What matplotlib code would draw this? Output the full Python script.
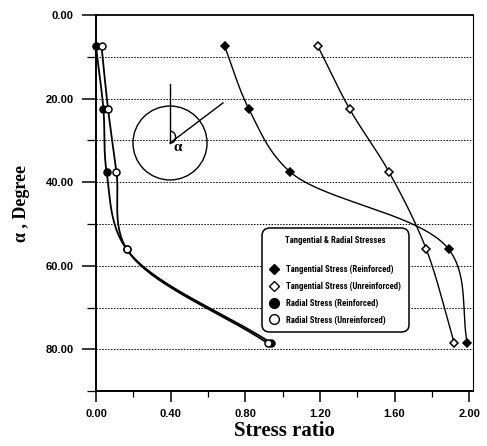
import numpy as np
import matplotlib
matplotlib.use("Agg")
import matplotlib.pyplot as plt
from matplotlib import font_manager
from matplotlib.lines import Line2D
from matplotlib.patches import Ellipse, Arc
from matplotlib.ticker import MultipleLocator, FormatStrFormatter

# angle positions (degrees) of the computed points
angles = [7.5, 22.5, 37.5, 56.0, 78.5]

tang_reinf = [0.69, 0.82, 1.04, 1.89, 1.99]
tang_unreinf = [1.19, 1.36, 1.57, 1.77, 1.92]
rad_reinf = [0.0, 0.04, 0.057, 0.164, 0.94]
rad_unreinf = [0.03, 0.065, 0.11, 0.165, 0.92]

labels = [
    "Tangential Stress (Reinforced)",
    "Tangential Stress (Unreinforced)",
    "Radial Stress (Reinforced)",
    "Radial Stress (Unreinforced)",
]


def smooth(xs, ys, n=60, alpha=0.5):
    # centripetal Catmull-Rom through the points, in scaled units so both axes weigh the same
    p = np.column_stack([np.asarray(xs) / 2.0, np.asarray(ys) / 90.0])
    pts = np.vstack([2 * p[0] - p[1], p, 2 * p[-1] - p[-2]])
    segs = []
    for i in range(1, len(pts) - 2):
        P0, P1, P2, P3 = pts[i - 1:i + 3]
        t0 = 0.0
        t1 = t0 + np.linalg.norm(P1 - P0) ** alpha
        t2 = t1 + np.linalg.norm(P2 - P1) ** alpha
        t3 = t2 + np.linalg.norm(P3 - P2) ** alpha
        t = np.linspace(t1, t2, n)[:, None]
        A1 = (t1 - t) / (t1 - t0) * P0 + (t - t0) / (t1 - t0) * P1
        A2 = (t2 - t) / (t2 - t1) * P1 + (t - t1) / (t2 - t1) * P2
        A3 = (t3 - t) / (t3 - t2) * P2 + (t - t2) / (t3 - t2) * P3
        B1 = (t2 - t) / (t2 - t0) * A1 + (t - t0) / (t2 - t0) * A2
        B2 = (t3 - t) / (t3 - t1) * A2 + (t - t1) / (t3 - t1) * A3
        segs.append((t2 - t) / (t2 - t1) * B1 + (t - t1) / (t2 - t1) * B2)
    c = np.vstack(segs)
    return c[:, 0] * 2.0, c[:, 1] * 90.0


# narrowest bold sans that is installed, for the legend
fams = {f.name for f in font_manager.fontManager.ttflist}
legend_family = "DejaVu Sans"
for name in ["Liberation Sans Narrow", "Roboto Condensed", "Open Sans Condensed",
             "Noto Sans Condensed"]:
    if name in fams:
        legend_family = name
        break
has_condensed = any(f.name == legend_family and "condensed" in str(f.stretch)
                    for f in font_manager.fontManager.ttflist)

fig = plt.figure(figsize=(4.87, 4.46), dpi=100)
ax = fig.add_axes([0.197, 0.123, 0.774, 0.843])

ax.set_xlim(0, 2.02)
ax.set_ylim(90, 0)

for y in range(10, 90, 10):
    ax.axhline(y, color="black", lw=0.7, ls=(0, (1.5, 1.5)), zorder=1)

series = [
    (tang_reinf, "D", "black", 3.8, 1.0),
    (tang_unreinf, "D", "white", 3.8, 1.0),
    (rad_reinf, "o", "black", 5.0, 1.3),
    (rad_unreinf, "o", "white", 5.0, 1.3),
]
for xs, mk, fc, ms, lw in series:
    sx, sy = smooth(xs, angles)
    ax.plot(sx, sy, color="black", lw=lw, zorder=2)
    ax.plot(xs, angles, ls="none", marker=mk, ms=ms, mfc=fc, mec="black",
            mew=1.1, zorder=3, clip_on=False)

# sketch of the opening with the angle alpha
ax.add_patch(Ellipse((0.397, 30.6), 0.397, 17.7, fill=False, ec="black", lw=1.0))
ax.plot([0.397, 0.397], [30.6, 16.5], color="black", lw=1.0)
ax.plot([0.397, 0.681], [30.6, 21.0], color="black", lw=1.0)
ax.add_patch(Arc((0.397, 29.2), 0.06, 2.9, theta1=-90, theta2=90, ec="black", lw=1.0))
ax.text(0.418, 31.6, "α", fontsize=11, fontweight="bold", family="Liberation Serif",
        va="center", ha="left")

ax.xaxis.set_major_locator(MultipleLocator(0.4))
ax.xaxis.set_minor_locator(MultipleLocator(0.2))
ax.yaxis.set_major_locator(MultipleLocator(20))
ax.yaxis.set_minor_locator(MultipleLocator(10))
ax.xaxis.set_major_formatter(FormatStrFormatter("%.2f"))
ax.yaxis.set_major_formatter(FormatStrFormatter("%.2f"))
ax.tick_params(axis="x", which="major", direction="out", length=8, width=1.1,
               labelsize=8, pad=5)
ax.tick_params(axis="x", which="minor", direction="out", length=4.5, width=0.9)
ax.tick_params(axis="y", which="major", direction="out", length=10, width=1.1,
               labelsize=8, pad=6)
ax.tick_params(axis="y", which="minor", direction="out", length=6.5, width=0.9)
for lab in ax.get_xticklabels() + ax.get_yticklabels():
    lab.set_fontweight("bold")
    lab.set_family("Liberation Sans")

ax.spines["left"].set_linewidth(1.4)
ax.spines["bottom"].set_linewidth(1.4)
ax.spines["top"].set_linewidth(1.3)
ax.spines["right"].set_linewidth(0.8)

ax.set_xlabel("Stress ratio", fontsize=15, fontweight="bold", family="Liberation Serif",
              labelpad=1)
ax.set_ylabel("α , Degree", fontsize=13, fontweight="bold", family="Liberation Serif",
              labelpad=11)

handles = [
    Line2D([], [], ls="none", marker="D", ms=5, mfc="black", mec="black"),
    Line2D([], [], ls="none", marker="D", ms=5, mfc="white", mec="black"),
    Line2D([], [], ls="none", marker="o", ms=7, mfc="black", mec="black"),
    Line2D([], [], ls="none", marker="o", ms=7, mfc="white", mec="black"),
]
leg_font = {"family": [legend_family, "DejaVu Sans"], "weight": "bold", "size": 6.3}
if has_condensed:
    leg_font["stretch"] = "condensed"
leg = ax.legend(handles, labels, title="Tangential & Radial Stresses",
                loc="upper left", bbox_to_anchor=(0.44, 0.433),
                prop=leg_font, title_fontproperties=leg_font,
                fancybox=True, framealpha=1, edgecolor="black",
                handletextpad=0.9, labelspacing=0.85, borderpad=0.9,
                handlelength=1.0, borderaxespad=0)
leg._legend_box.sep = 14
leg.get_frame().set_linewidth(1.1)
leg.get_frame().set_boxstyle("round", pad=0.0, rounding_size=0.9)

fig.savefig("out.png", dpi=100)
